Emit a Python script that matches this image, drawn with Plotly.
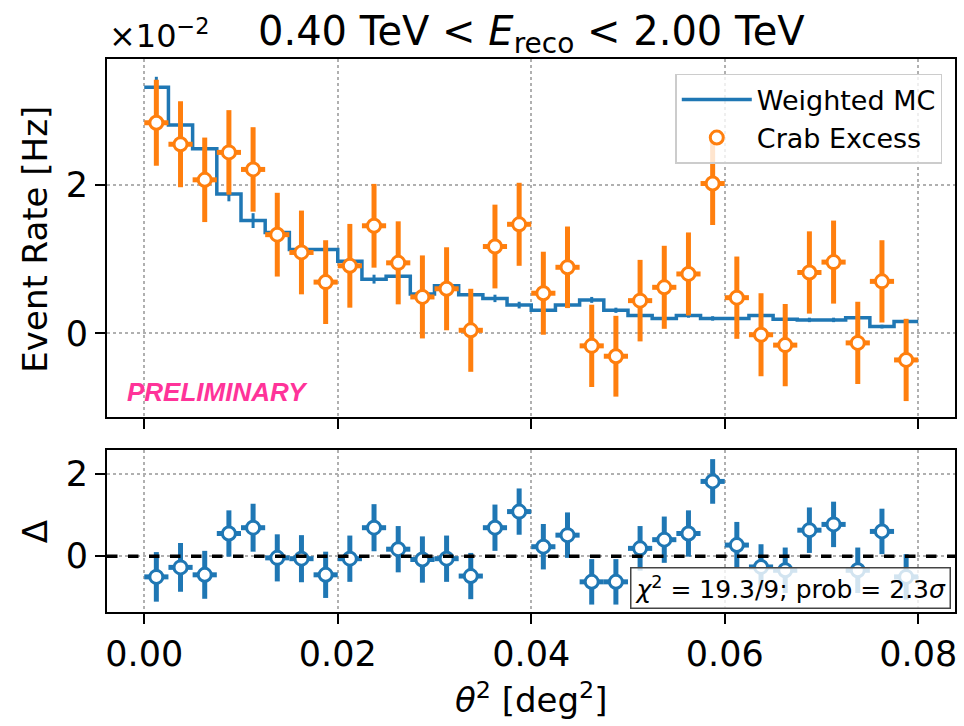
import numpy as np
import plotly.graph_objects as go

# ---- data ----
bin_width = 0.0025
n_bins = 32
edges = [i * bin_width for i in range(n_bins + 1)]
centers = [(edges[i] + edges[i + 1]) / 2 for i in range(n_bins)]

mc_rate = [3.32, 2.81, 2.49, 1.88, 1.52, 1.36, 1.13, 1.13, 0.97, 0.73, 0.77, 0.53,
           0.64, 0.52, 0.47, 0.38, 0.31, 0.38, 0.45, 0.31, 0.24, 0.20, 0.24, 0.20,
           0.20, 0.24, 0.19, 0.18, 0.18, 0.21, 0.09, 0.16]
mc_err = [0.14, 0.12, 0.11, 0.10, 0.10, 0.09, 0.08, 0.08, 0.07, 0.06, 0.06, 0.05,
          0.05, 0.05, 0.05, 0.045, 0.04, 0.04, 0.04, 0.035, 0.035, 0.03, 0.03, 0.03,
          0.03, 0.03, 0.03, 0.03, 0.03, 0.03, 0.025, 0.025]

crab_rate = [2.84, 2.55, 2.07, 2.44, 2.21, 1.33, 1.09, 0.69, 0.91, 1.45, 0.95, 0.49,
             0.60, 0.04, 1.17, 1.47, 0.54, 0.89, -0.17, -0.31, 0.44, 0.62, 0.80, 2.02,
             0.48, -0.02, -0.16, 0.82, 0.96, -0.13, 0.70, -0.36]
crab_err = [0.58, 0.58, 0.57, 0.57, 0.57, 0.565, 0.565, 0.565, 0.565, 0.565, 0.56, 0.56,
            0.56, 0.56, 0.565, 0.56, 0.56, 0.55, 0.555, 0.545, 0.55, 0.56, 0.56, 0.56,
            0.555, 0.56, 0.555, 0.555, 0.56, 0.555, 0.555, 0.555]

delta = [-0.50, -0.27, -0.45, 0.55, 0.69, -0.04, -0.06, -0.45, -0.06, 0.69, 0.17, -0.08,
         -0.06, -0.48, 0.69, 1.08, 0.23, 0.51, -0.62, -0.62, 0.19, 0.40, 0.55, 1.81,
         0.27, -0.26, -0.34, 0.63, 0.77, -0.34, 0.60, -0.50]
delta_err = [0.60, 0.59, 0.58, 0.56, 0.58, 0.57, 0.57, 0.56, 0.56, 0.57, 0.56, 0.56,
             0.56, 0.56, 0.56, 0.56, 0.55, 0.55, 0.55, 0.55, 0.54, 0.56, 0.56, 0.54,
             0.56, 0.55, 0.55, 0.55, 0.55, 0.55, 0.55, 0.55]

x_ticks = [0.00, 0.02, 0.04, 0.06, 0.08]
chi2_text = "<i>χ</i><sup>2</sup> = 19.3/9; prob = 2.3<i>σ</i>"

BLUE = "#1f77b4"
ORANGE = "#ff7f0e"
FONT = "DejaVu Sans"

fig = go.Figure()

# Weighted MC step
fig.add_trace(go.Scatter(
    x=edges, y=mc_rate + [mc_rate[-1]], mode="lines", line_shape="hv",
    line=dict(color=BLUE, width=3.5), name="Weighted MC", xaxis="x", yaxis="y"))
fig.add_trace(go.Scatter(
    x=centers, y=mc_rate, mode="markers",
    marker=dict(size=1, color="rgba(0,0,0,0)"),
    error_y=dict(type="data", array=mc_err, color=BLUE, thickness=3, width=0),
    showlegend=False, hoverinfo="skip", xaxis="x", yaxis="y"))

# Crab excess
fig.add_trace(go.Scatter(
    x=centers, y=crab_rate, mode="markers", name="Crab Excess",
    marker=dict(symbol="circle", size=13, color="white", line=dict(color=ORANGE, width=3)),
    error_y=dict(type="data", array=crab_err, color=ORANGE, thickness=5, width=0),
    error_x=dict(type="constant", value=bin_width / 2, color=ORANGE, thickness=5, width=0),
    xaxis="x", yaxis="y"))

# Residuals
fig.add_trace(go.Scatter(
    x=centers, y=delta, mode="markers", showlegend=False,
    marker=dict(symbol="circle", size=13, color="white", line=dict(color=BLUE, width=3)),
    error_y=dict(type="data", array=delta_err, color=BLUE, thickness=5, width=0),
    error_x=dict(type="constant", value=bin_width / 2, color=BLUE, thickness=5, width=0),
    xaxis="x2", yaxis="y2"))

axis_common = dict(
    showline=True, linecolor="black", linewidth=2, mirror=True,
    ticks="outside", ticklen=10, tickwidth=2, tickcolor="black",
    showgrid=True, gridcolor="#b0b0b0", griddash="dot", gridwidth=1.5,
    zeroline=False, tickfont=dict(family=FONT, size=35, color="black"),
)

xr = [-0.00385, 0.0838]
fig.update_layout(
    width=964, height=726,
    margin=dict(l=107, r=7, t=59, b=114),
    paper_bgcolor="white", plot_bgcolor="white",
    font=dict(family=FONT, color="black"),
    xaxis=dict(domain=[0, 1], anchor="y", range=xr, matches="x2",
               tickvals=x_ticks, showticklabels=False, **axis_common),
    xaxis2=dict(domain=[0, 1], anchor="y2", range=xr,
                tickvals=x_ticks, tickformat=".2f", **axis_common),
    yaxis=dict(domain=[0.3526, 1], anchor="x", range=[-1.13, 3.70],
               tickvals=[0, 2], **axis_common),
    yaxis2=dict(domain=[0, 0.2929], anchor="x2", range=[-1.35, 2.57],
                tickvals=[0, 2], **axis_common),
    legend=dict(x=0.985, y=0.973, xanchor="right", yanchor="top",
                bgcolor="rgba(255,255,255,0.8)", bordercolor="#cccccc", borderwidth=1.5,
                itemwidth=70, tracegroupgap=8,
                font=dict(family=FONT, size=27, color="black")),
    showlegend=True,
)

fig.add_shape(type="line", xref="paper", yref="y2", x0=0, x1=1, y0=0, y1=0,
              line=dict(color="black", width=3.5, dash="dash"))

annotations = [
    dict(text="0.40 TeV &lt; <i>E</i><sub>reco</sub> &lt; 2.00 TeV", xref="paper", yref="paper",
         x=0.5, y=1.045, xanchor="center", yanchor="middle", showarrow=False,
         font=dict(family=FONT, size=40, color="black")),
    dict(text="×10<sup>−2</sup>", xref="paper", yref="paper",
         x=0.0, y=1.045, xanchor="left", yanchor="middle", showarrow=False,
         font=dict(family=FONT, size=32, color="black")),
    dict(text="Event Rate [Hz]", xref="paper", yref="paper",
         x=-0.085, y=0.675, xanchor="center", yanchor="middle", textangle=-90, showarrow=False,
         font=dict(family=FONT, size=34, color="black")),
    dict(text="Δ", xref="paper", yref="paper",
         x=-0.085, y=0.146, xanchor="center", yanchor="middle", textangle=-90, showarrow=False,
         font=dict(family=FONT, size=34, color="black")),
    dict(text="<i>θ</i><sup>2</sup> [deg<sup>2</sup>]", xref="paper", yref="paper",
         x=0.5, y=-0.155, xanchor="center", yanchor="middle", showarrow=False,
         font=dict(family=FONT, size=34, color="black")),
    dict(text="<b><i>PRELIMINARY</i></b>", xref="paper", yref="paper",
         x=0.021, y=0.397, xanchor="left", yanchor="middle", showarrow=False,
         font=dict(family="Liberation Sans", size=26, color="#FF3399")),
    dict(text=chi2_text, xref="paper", yref="paper",
         x=0.995, y=0.006, xanchor="right", yanchor="bottom", showarrow=False,
         bgcolor="rgba(255,255,255,0.8)", bordercolor="#444444", borderwidth=1.5, borderpad=3,
         font=dict(family=FONT, size=25, color="black")),
]
fig.update_layout(annotations=annotations)

fig.write_html("out.html")
